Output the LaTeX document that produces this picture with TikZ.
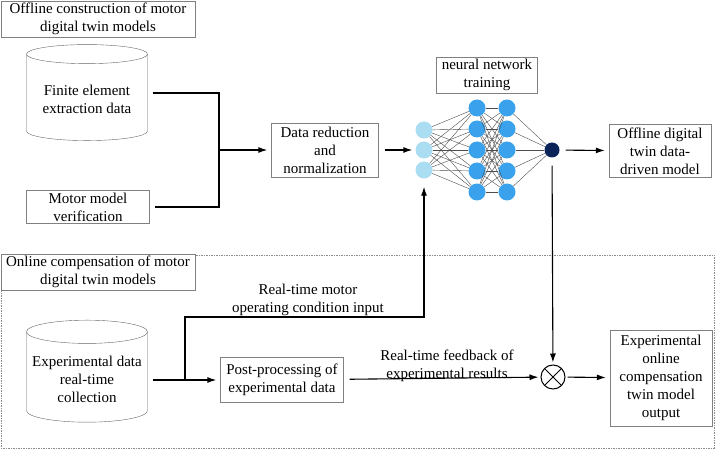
\documentclass[tikz,border=0pt]{standalone}
\usepackage{fontspec}
\setmainfont{Liberation Serif}
\usetikzlibrary{positioning,arrows.meta,shapes.geometric}
\definecolor{inblue}{HTML}{AADCF2}
\definecolor{hidblue}{HTML}{3AA2EC}
\definecolor{outblue}{HTML}{0A245A}

\begin{document}
\begin{tikzpicture}[x=1pt,y=-1pt,>={Latex[length=9pt,width=6pt]},
  font=\fontsize{15}{18}\selectfont,
  box/.style={draw=black!50,fill=white,align=center,inner sep=2pt},
  store/.style={cylinder,shape border rotate=90,aspect=0.2,draw=black!60,align=center,minimum width=121pt,minimum height=96pt},
  conn/.style={line width=1.1pt,shorten <=5pt,shorten >=5pt},
  arr/.style={line width=1.1pt,->,shorten <=6pt,shorten >=4pt},
  neu/.style={circle,inner sep=0pt,minimum size=17pt},
  wire/.style={black!70,line width=0.4pt}]
\useasboundingbox (0,0) rectangle (715,449);
% online region
\draw[black!45,dash pattern=on 1.5pt off 1pt,line width=0.6pt] (1,255) rectangle (714,448);

\node[box,minimum width=194pt,minimum height=36pt] (offtitle) at (98,19) {Offline construction of motor\\digital twin models};
\node[box,minimum width=194pt,minimum height=35pt] (ontitle) at (98,272) {Online compensation of motor\\digital twin models};

\node[store] (fem) at (87,99) {Finite element\\extraction data};
\node[box,minimum width=123pt,minimum height=33pt] (mmv) at (88,207) {Motor model\\verification};
\node[box,minimum width=107pt,minimum height=54pt] (dr) at (325,150) {Data reduction\\and\\normalization};
\node[box,minimum width=101pt,minimum height=35pt] (nnt) at (487,75) {neural network\\training};
\node[box,minimum width=102pt,minimum height=53pt] (odm) at (660,151) {Offline digital\\twin data-\\driven model};

% network
\foreach \i/\y in {1/130,2/150,3/170} \node[neu,fill=inblue] (a\i) at (424,\y) {};
\foreach \i/\y in {1/108,2/129,3/150,4/171,5/192} {
  \node[neu,fill=hidblue] (b\i) at (477,\y) {};
  \node[neu,fill=hidblue] (c\i) at (507,\y) {};
}
\node[neu,fill=outblue,minimum size=15pt] (o) at (552,150) {};
\foreach \j in {1,...,5} {
  \foreach \i in {1,2,3} \draw[wire] (a\i) -- (b\j);
  \foreach \k in {1,...,5} \draw[wire] (b\j) -- (c\k);
  \draw[wire] (c\j) -- (o);
}

\node[store,minimum height=102pt] (edc) at (87,379) {Experimental data\\real-time\\collection};
\node[box,minimum width=123pt,minimum height=45pt] (pp) at (282,380) {Post-processing of\\experimental data};
\node[circle,draw,line width=1pt,minimum size=24pt,
  path picture={\draw[line width=1pt] (path picture bounding box.north west) -- (path picture bounding box.south east)
    (path picture bounding box.north east) -- (path picture bounding box.south west);}] (mul) at (553,377) {};
\node[box,minimum width=102pt,minimum height=96pt] (eo) at (661,378) {Experimental\\online\\compensation\\twin model\\output};

\node[align=center] (rt) at (308,300) {Real-time motor\\operating condition input};
\node[align=center] (fb) at (447,366) {Real-time feedback of\\experimental results};

% connectors
\coordinate (j1) at (219,150);
\coordinate (j2) at (185,380);
\coordinate (k) at (424,317);
\draw[conn] (fem.east |- 0,93) -| (j1) |- (mmv.east);
\draw[arr,shorten <=0pt] (j1) -- (dr);
\draw[arr,shorten >=3pt] (dr) -- (a2);
\draw[arr] (o) -- (odm);
\draw[arr,shorten <=8pt,shorten >=2pt] (o) -- (mul);
\draw[conn,shorten >=0pt] (edc.east |- j2) -- (j2);
\draw[arr,shorten <=0pt] (j2) -- (pp);
\draw[arr,shorten <=0pt,shorten >=8pt] (j2) |- (k) -- (a3);
\draw[arr,shorten >=2pt] (pp) -- (mul);
\draw[arr,shorten <=2pt] (mul) -- (eo);
\end{tikzpicture}
\end{document}
